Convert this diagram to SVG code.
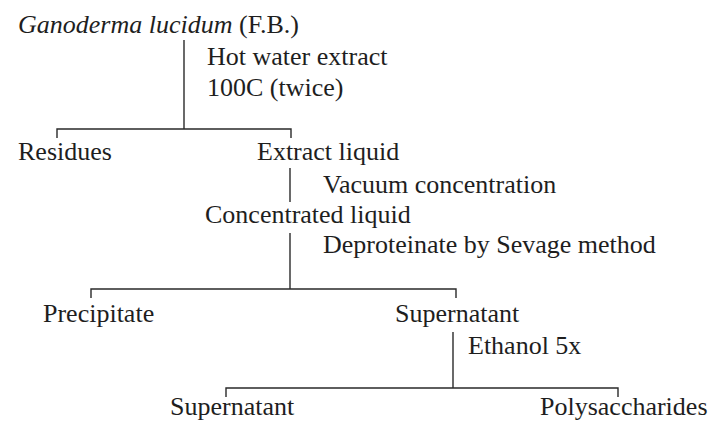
<svg xmlns="http://www.w3.org/2000/svg" width="714" height="422" viewBox="0 0 714 422">
<style>
text{font-family:"Liberation Serif","Times New Roman",serif;font-size:26px;fill:#1e1e1e}
.it{font-style:italic}
.ln{fill:none;stroke:#2a2a2a;stroke-width:1.4}
</style>
<rect width="714" height="422" fill="#fff"/>
<g id="connectors">
<path class="ln" d="M184,40 V129"/>
<path class="ln" d="M57,138 V129 H291 V138"/>
<path class="ln" d="M290,168 V202"/>
<path class="ln" d="M290,233 V289"/>
<path class="ln" d="M91,298 V289 H456 V298"/>
<path class="ln" d="M453,332 V388"/>
<path class="ln" d="M226,397 V388 H618 V397"/>
</g>
<g id="ganoderma"><text x="18" y="33"><tspan class="it">Ganoderma lucidum</tspan> (F.B.)</text></g>
<g id="step-hot-water"><text x="207" y="65">Hot water extract</text><text x="207" y="96">100C (twice)</text></g>
<g id="residues"><text x="18" y="160">Residues</text></g>
<g id="extract-liquid"><text x="257" y="160">Extract liquid</text></g>
<g id="step-vacuum"><text x="323" y="193">Vacuum concentration</text></g>
<g id="concentrated-liquid"><text x="205" y="223">Concentrated liquid</text></g>
<g id="step-deproteinate"><text x="323" y="253">Deproteinate by Sevage method</text></g>
<g id="precipitate"><text x="43" y="322">Precipitate</text></g>
<g id="supernatant-1"><text x="395" y="322">Supernatant</text></g>
<g id="step-ethanol"><text x="468" y="354">Ethanol 5x</text></g>
<g id="supernatant-2"><text x="170" y="415">Supernatant</text></g>
<g id="polysaccharides"><text x="540" y="415">Polysaccharides</text></g>
</svg>
